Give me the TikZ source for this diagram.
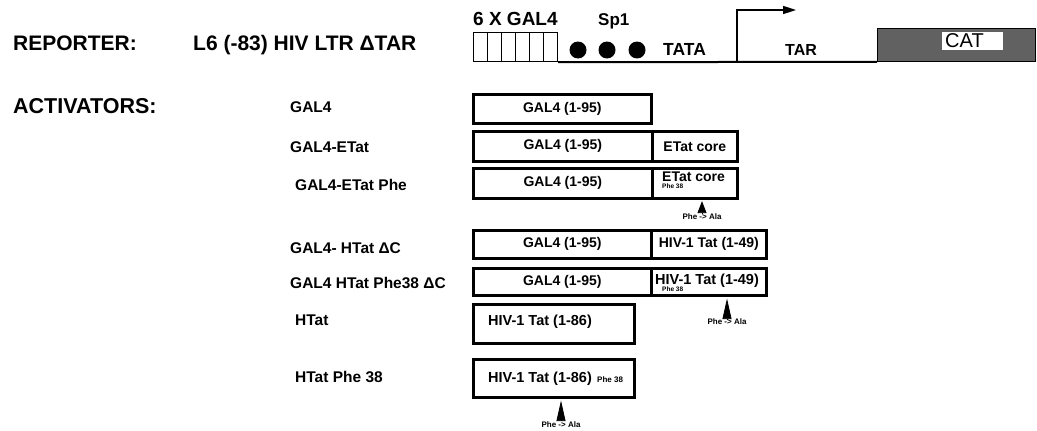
\documentclass[tikz,border=0pt]{standalone}
\usepackage{fontspec}
\setmainfont{Liberation Sans}
\usetikzlibrary{arrows.meta}
\newcommand\fsz[1]{\fontsize{#1}{#1}\selectfont\bfseries}
\begin{document}
\begin{tikzpicture}[x=1pt,y=-1pt,
  txt/.style={inner sep=0pt, anchor=base west},
  ctxt/.style={inner sep=0pt, anchor=base},
  seg/.style={draw, line width=2.6pt, inner sep=0pt, anchor=north west, font=\fsz{14}},
  site/.style={draw, line width=1.2pt, inner sep=0pt, anchor=north west, minimum width=14pt, minimum height=29pt},
  sp/.style={circle, fill=black, inner sep=0pt, minimum size=17pt},
  mut/.style={-{Triangle[length=#1,width=9pt]}, line width=0.8pt, shorten <=1pt, shorten >=2pt},
  mut/.default=14pt
]
\useasboundingbox (0,0) rectangle (1037,431);

% ---------- reporter ----------
\node[txt, font=\fsz{21}] (rep) at (13,50) {REPORTER:};
\node[txt, font=\fsz{21}] (ltr) at (193,50) {L6 (-83) HIV LTR ΔTAR};
\node[txt, font=\fsz{19}] (gal) at (473,25) {6 X GAL4};
\node[txt, font=\fsz{17}] (sp1) at (598,25) {Sp1};
\foreach \i in {1,...,6}{
  \node[site] (s\i) at ({473+14*(\i-1)},32) {};
}
\node[sp] (c1) at (578,50) {};
\node[sp] (c2) at (607,50) {};
\node[sp] (c3) at (637,50) {};
\node[txt, font=\fsz{17.5}] (tata) at (663,55) {TATA};
\node[txt, font=\fsz{16}] (tar) at (785,55) {TAR};
\node[draw, fill=black!62, line width=0.8pt, anchor=north west, minimum width=158pt, minimum height=33pt, inner sep=0pt] (cat) at (877,28) {};
\node[fill=white, anchor=north west, minimum width=61pt, minimum height=18pt, inner sep=0pt] (catl) at (942,32) {};
\node[txt, font=\fontsize{20}{20}\selectfont] (catt) at (945,47.5) {CAT};
\draw[line width=2pt] (s6.south east) -- (cat.south west);
\coordinate (tss) at (737,61);
\coordinate (tip) at (796,10);
\draw[line width=1.6pt, -{Triangle[length=13pt,width=8pt]}] (tss) |- (tip);

% ---------- activators ----------
\node[txt, font=\fsz{21.5}] (act) at (13,113) {ACTIVATORS:};
\node[txt, font=\fsz{15.5}] (l1) at (290,112) {GAL4};
\node[txt, font=\fsz{15.5}] (l2) at (290,152) {GAL4-ETat};
\node[txt, font=\fsz{15.5}] (l3) at (295,190) {GAL4-ETat Phe};
\node[txt, font=\fsz{15.5}] (l4) at (290,253) {GAL4- HTat ΔC};
\node[txt, font=\fsz{15.5}] (l5) at (290,288) {GAL4 HTat Phe38 ΔC};
\node[txt, font=\fsz{15.5}] (l6) at (295,325) {HTat};
\node[txt, font=\fsz{15.5}] (l7) at (295,382) {HTat Phe 38};

% row 1
\node[seg, minimum width=178pt, minimum height=29pt] (g1) at (472,93) {GAL4 (1-95)};
% row 2
\node[seg, minimum width=179pt, minimum height=30pt] (g2) at (472,130) {GAL4 (1-95)};
\node[seg, minimum width=85pt, minimum height=30pt] (e2) at (651,130) {ETat core};
% row 3
\node[seg, minimum width=179pt, minimum height=30pt] (g3) at (472,167) {GAL4 (1-95)};
\node[seg, minimum width=85pt, minimum height=30pt] (e3) at (651,167) {};
\node[txt, font=\fsz{14}] (e3t) at (662,181) {ETat core};
\node[txt, font=\fsz{6.5}] (e3p) at (662,188) {Phe 38};
\node[ctxt, font=\fsz{8}] (a3) at (702,219.5) {Phe -> Ala};
\draw[mut=12pt, shorten <=0.5pt, shorten >=1.5pt] (a3.north) -- (a3.north |- e3.south);
% row 4
\node[seg, minimum width=178pt, minimum height=28pt] (g4) at (472,229) {GAL4 (1-95)};
\node[seg, minimum width=115pt, minimum height=28pt] (h4) at (650,229) {HIV-1 Tat (1-49)};
% row 5
\node[seg, minimum width=178pt, minimum height=27pt] (g5) at (472,267) {GAL4 (1-95)};
\node[seg, minimum width=115pt, minimum height=27pt] (h5) at (650,267) {};
\node[txt, font=\fsz{14.5}] (h5t) at (655,284) {HIV-1 Tat (1-49)};
\node[txt, font=\fsz{6.5}] (h5p) at (662,291) {Phe 38};
\node[ctxt, font=\fsz{8}] (a5) at (727,324) {Phe -> Ala};
\draw[mut=20.5pt] (a5.north) -- (a5.north |- h5.south);
% row 6
\node[seg, minimum width=161pt, minimum height=39pt] (t6) at (472,303) {};
\node[txt, font=\fsz{14.5}] (t6t) at (488,325) {HIV-1 Tat (1-86)};
% row 7
\node[seg, minimum width=161pt, minimum height=38pt] (t7) at (472,358) {};
\node[txt, font=\fsz{14.5}] (t7t) at (488,382) {HIV-1 Tat (1-86)};
\node[txt, font=\fsz{8}] (t7p) at (597,382) {Phe 38};
\node[ctxt, font=\fsz{8}] (a7) at (561,427) {Phe -> Ala};
\draw[mut=20.5pt] (a7.north) -- (a7.north |- t7.south);
\end{tikzpicture}
\end{document}
